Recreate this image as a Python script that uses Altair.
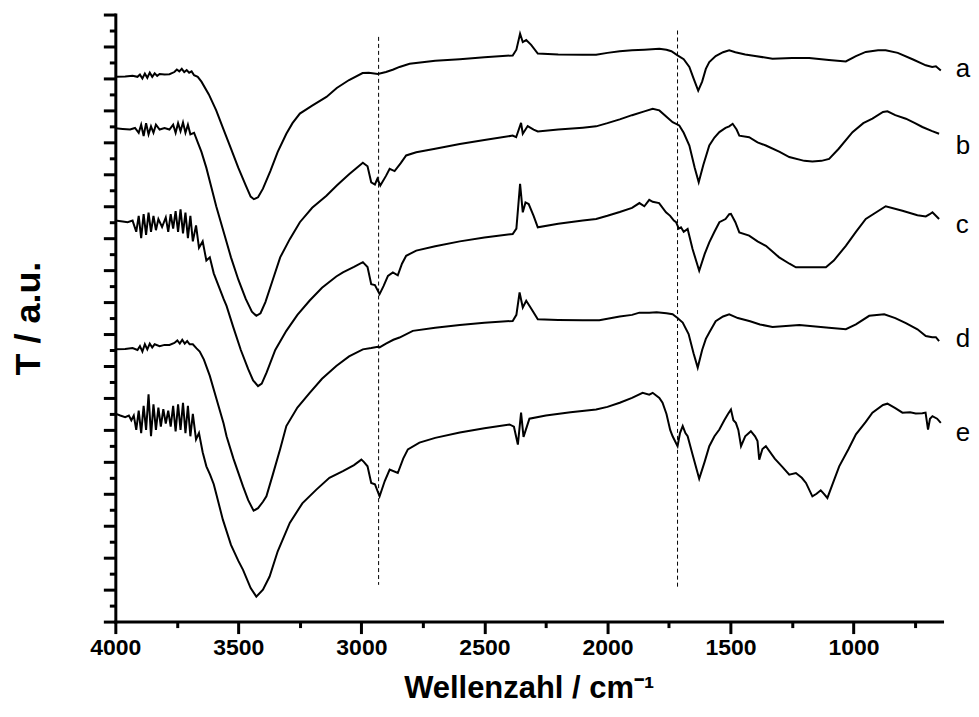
import altair as alt
import pandas as pd

series_names = ["a", "b", "c", "d", "e"]

a_pts = [(4000,17.05),(3960,17.06),(3930,17.08),(3910,17.05),(3900,17.12),(3890,17.0),(3880,17.15),(3870,17.02),(3860,17.18),(3850,17.05),(3840,17.16),(3830,17.08),(3820,17.14),(3800,17.12),(3780,17.13),(3760,17.2),(3750,17.28),(3740,17.22),(3730,17.3),(3720,17.2),(3710,17.26),(3700,17.18),(3690,17.22),(3680,17.1),(3665,17.05),(3650,16.9),(3620,16.5),(3590,16.0),(3560,15.4),(3530,14.8),(3500,14.2),(3470,13.65),(3450,13.3),(3437,13.22),(3420,13.28),(3400,13.55),(3370,14.1),(3340,14.7),(3305,15.27),(3280,15.6),(3250,15.9),(3200,16.15),(3142,16.42),(3100,16.7),(3050,16.95),(2995,17.17),(2970,17.18),(2933,17.14),(2900,17.2),(2870,17.28),(2845,17.36),(2804,17.46),(2700,17.55),(2600,17.6),(2500,17.66),(2385,17.72),(2370,17.9),(2355,18.4),(2344,18.14),(2330,18.2),(2310,18.05),(2283,17.78),(2200,17.75),(2100,17.74),(2046,17.74),(2000,17.8),(1950,17.85),(1900,17.88),(1850,17.9),(1789,17.93),(1760,17.9),(1740,17.85),(1715,17.72),(1690,17.6),(1667,17.36),(1650,17.0),(1631,16.62),(1615,16.9),(1600,17.3),(1586,17.51),(1560,17.7),(1530,17.82),(1505,17.88),(1480,17.82),(1440,17.75),(1400,17.7),(1329,17.62),(1250,17.64),(1180,17.64),(1100,17.58),(1031,17.53),(990,17.7),(950,17.83),(900,17.88),(869,17.88),(820,17.8),(760,17.6),(706,17.41),(680,17.36),(665,17.38),(645,17.25)]

b_pts = [(4000,15.44),(3970,15.42),(3940,15.40),(3920,15.45),(3905,15.3),(3895,15.55),(3885,15.2),(3875,15.6),(3865,15.25),(3855,15.5),(3845,15.3),(3835,15.55),(3820,15.4),(3800,15.45),(3780,15.4),(3765,15.55),(3755,15.3),(3745,15.6),(3735,15.35),(3725,15.62),(3715,15.3),(3705,15.55),(3695,15.25),(3680,15.3),(3665,15.0),(3650,14.7),(3630,14.2),(3610,13.6),(3590,13.0),(3560,12.2),(3530,11.4),(3500,10.7),(3470,10.1),(3445,9.7),(3427,9.57),(3410,9.65),(3390,10.0),(3360,10.7),(3330,11.4),(3291,11.97),(3250,12.5),(3200,12.95),(3142,13.33),(3100,13.65),(3050,14.0),(2994,14.36),(2975,14.25),(2960,13.75),(2945,13.68),(2935,13.86),(2923,13.65),(2900,13.95),(2885,14.17),(2865,14.1),(2840,14.35),(2818,14.59),(2777,14.69),(2700,14.8),(2600,14.95),(2500,15.07),(2385,15.21),(2371,15.16),(2351,15.61),(2344,15.27),(2324,15.51),(2300,15.4),(2283,15.34),(2200,15.4),(2100,15.46),(2046,15.5),(2000,15.6),(1950,15.72),(1900,15.85),(1850,15.97),(1816,16.05),(1789,16.0),(1760,15.8),(1735,15.63),(1708,15.53),(1690,15.3),(1667,14.9),(1645,14.2),(1629,13.75),(1610,14.3),(1586,14.9),(1565,15.15),(1545,15.32),(1520,15.45),(1505,15.5),(1491,15.58),(1475,15.4),(1464,15.21),(1424,15.16),(1390,15.0),(1356,14.9),(1300,14.7),(1261,14.54),(1200,14.42),(1167,14.4),(1130,14.42),(1099,14.48),(1060,14.8),(1004,15.32),(960,15.6),(923,15.74),(880,15.95),(862,15.97),(830,15.85),(787,15.74),(750,15.6),(720,15.48),(680,15.35),(652,15.27)]

c_pts = [(4000,12.55),(3970,12.52),(3950,12.5),(3930,12.55),(3915,12.2),(3905,12.7),(3895,12.0),(3885,12.75),(3875,12.1),(3865,12.8),(3855,12.2),(3845,12.7),(3835,12.25),(3825,12.6),(3810,12.35),(3795,12.65),(3785,12.2),(3775,12.75),(3765,12.3),(3755,12.85),(3745,12.2),(3735,12.9),(3725,12.15),(3715,12.8),(3705,12.0),(3695,12.7),(3685,11.9),(3672,12.4),(3660,11.7),(3645,11.9),(3630,11.3),(3616,11.4),(3600,10.9),(3580,10.5),(3560,10.1),(3548,9.88),(3520,9.2),(3490,8.5),(3460,7.9),(3440,7.55),(3420,7.37),(3405,7.45),(3385,7.8),(3350,8.5),(3305,9.1),(3260,9.6),(3210,10.05),(3160,10.45),(3102,10.8),(3075,10.93),(3030,11.1),(2994,11.25),(2975,11.1),(2960,10.56),(2945,10.53),(2926,10.25),(2910,10.5),(2892,10.82),(2872,10.93),(2852,10.84),(2835,11.2),(2818,11.45),(2777,11.61),(2700,11.75),(2600,11.9),(2500,12.02),(2385,12.13),(2370,12.3),(2355,13.7),(2344,12.81),(2333,13.12),(2320,13.07),(2300,12.7),(2283,12.34),(2200,12.45),(2100,12.55),(2046,12.6),(2000,12.7),(1950,12.82),(1900,12.95),(1870,13.1),(1850,13.0),(1830,13.2),(1816,13.14),(1790,13.1),(1762,12.81),(1745,12.7),(1730,12.55),(1721,12.5),(1710,12.3),(1701,12.34),(1690,12.2),(1674,12.29),(1654,11.66),(1627,10.98),(1605,11.5),(1586,11.87),(1565,12.2),(1545,12.5),(1520,12.6),(1505,12.75),(1498,12.76),(1480,12.5),(1464,12.18),(1424,12.08),(1390,11.9),(1356,11.76),(1302,11.4),(1260,11.2),(1234,11.09),(1112,11.09),(1080,11.3),(1031,11.76),(990,12.2),(950,12.6),(869,13.0),(801,12.86),(740,12.72),(706,12.68),(690,12.75),(679,12.81),(652,12.6)]

d_pts = [(4000,8.52),(3960,8.53),(3930,8.56),(3910,8.5),(3900,8.62),(3890,8.45),(3880,8.68),(3870,8.52),(3860,8.7),(3850,8.58),(3840,8.68),(3820,8.62),(3800,8.66),(3780,8.66),(3760,8.72),(3748,8.8),(3738,8.7),(3728,8.82),(3718,8.7),(3708,8.78),(3698,8.68),(3685,8.68),(3670,8.55),(3657,8.45),(3640,8.2),(3616,7.69),(3590,7.0),(3560,6.2),(3548,5.8),(3520,5.1),(3481,4.23),(3460,3.8),(3438,3.47),(3420,3.55),(3400,3.75),(3386,3.92),(3360,4.6),(3330,5.4),(3305,6.12),(3260,6.7),(3210,7.16),(3160,7.6),(3102,8.0),(3050,8.3),(2994,8.52),(2960,8.56),(2933,8.6),(2926,8.58),(2900,8.7),(2870,8.82),(2845,8.89),(2791,9.1),(2700,9.2),(2600,9.28),(2500,9.35),(2385,9.41),(2370,9.6),(2357,10.3),(2344,9.83),(2330,10.04),(2310,9.8),(2283,9.46),(2200,9.44),(2100,9.43),(2033,9.43),(1950,9.55),(1900,9.6),(1870,9.67),(1830,9.67),(1800,9.68),(1760,9.65),(1735,9.62),(1715,9.5),(1694,9.36),(1670,9.0),(1650,8.4),(1633,7.95),(1615,8.5),(1600,8.85),(1586,9.05),(1560,9.4),(1530,9.55),(1505,9.62),(1470,9.5),(1420,9.4),(1380,9.3),(1329,9.22),(1220,9.28),(1100,9.2),(1031,9.15),(990,9.3),(936,9.57),(875,9.62),(830,9.5),(787,9.34),(740,9.15),(706,8.94),(680,8.9),(665,8.9),(652,8.78)]

e_pts = [(4000,6.51),(3980,6.45),(3960,6.4),(3945,6.45),(3935,6.3),(3925,6.45),(3915,6.0),(3905,6.6),(3895,5.9),(3885,6.75),(3875,6.0),(3865,7.11),(3855,5.8),(3845,6.8),(3835,6.0),(3825,6.7),(3815,6.1),(3805,6.65),(3795,6.2),(3785,6.6),(3775,6.1),(3765,6.75),(3755,5.95),(3745,6.8),(3735,6.0),(3725,6.85),(3715,5.9),(3705,6.75),(3695,5.8),(3685,6.5),(3672,5.7),(3660,5.9),(3645,5.3),(3630,4.86),(3615,4.6),(3600,4.3),(3590,4.0),(3563,3.19),(3530,2.4),(3500,1.9),(3481,1.62),(3450,1.05),(3427,0.78),(3400,1.0),(3373,1.41),(3340,2.2),(3291,3.09),(3240,3.7),(3183,4.13),(3130,4.5),(3075,4.71),(3030,4.9),(3000,5.07),(2990,5.0),(2975,4.86),(2960,4.34),(2945,4.3),(2926,3.92),(2905,4.4),(2885,4.76),(2852,4.65),(2830,5.1),(2811,5.39),(2764,5.6),(2700,5.75),(2600,5.92),(2500,6.05),(2398,6.17),(2380,6.1),(2364,5.54),(2351,6.54),(2341,5.78),(2317,6.35),(2250,6.45),(2150,6.55),(2046,6.64),(2000,6.72),(1950,6.85),(1900,7.0),(1857,7.16),(1830,7.1),(1816,7.16),(1789,7.0),(1776,6.85),(1760,6.5),(1745,6.0),(1735,5.8),(1715,5.49),(1705,5.9),(1694,6.12),(1683,5.9),(1674,5.8),(1654,5.23),(1627,4.47),(1605,5.0),(1586,5.49),(1565,5.8),(1545,6.01),(1525,6.3),(1510,6.5),(1498,6.64),(1488,6.3),(1478,6.22),(1468,6.0),(1457,5.49),(1440,5.8),(1417,5.96),(1400,5.8),(1390,5.65),(1383,5.07),(1370,5.4),(1356,5.49),(1320,5.1),(1290,4.85),(1261,4.6),(1234,4.65),(1210,4.5),(1193,4.34),(1167,3.92),(1150,4.0),(1133,4.11),(1120,4.0),(1106,3.87),(1085,4.3),(1058,4.86),(1020,5.4),(990,5.86),(950,6.25),(923,6.54),(880,6.78),(862,6.82),(830,6.68),(801,6.54),(770,6.55),(747,6.51),(720,6.52),(707,6.54),(697,6.01),(689,6.35),(679,6.43),(660,6.35),(645,6.22)]

label_x = 584
label_y = [17.3, 14.9, 12.4, 8.85, 5.9]

marker_wn = [2930, 1715]
marker_top = [18.3, 18.5]
marker_bottom = [1.15, 1.0]

x_major = [4000, 3500, 3000, 2500, 2000, 1500, 1000]
x_minor = [3750, 3250, 2750, 2250, 1750, 1250, 750]
y_major = list(range(0, 20))
y_minor = [v + 0.5 for v in range(0, 19)]

x_title = "Wellenzahl / cm\u207b\u00b9"
y_title = "T / a.u."

rows = []
for name, pts in zip(series_names, [a_pts, b_pts, c_pts, d_pts, e_pts]):
    for i, (w, t) in enumerate(pts):
        rows.append({"series": name, "wn": w, "t": t, "order": i})
df = pd.DataFrame(rows)

labels_df = pd.DataFrame({"name": series_names, "wn": [label_x] * 5, "t": label_y})
rules_df = pd.DataFrame({"wn": marker_wn, "t": marker_top, "t2": marker_bottom})

FONT = "Liberation Sans"

x_scale = alt.Scale(domain=[640, 4000], reverse=True, nice=False, zero=False)
y_scale = alt.Scale(domain=[0, 19], nice=False, zero=False)

x_axis = alt.Axis(
    values=sorted(x_major + x_minor, reverse=True),
    labelExpr="datum.value % 500 === 0 ? datum.label : ''",
    format="d",
    tickSize={"condition": {"test": "datum.value % 500 === 0", "value": 12}, "value": 6},
    tickWidth={"condition": {"test": "datum.value > -1", "value": 3}, "value": 3},
    domainWidth=3,
    domainColor="black",
    tickColor="black",
    labelFont=FONT,
    labelFontSize=23,
    labelFontWeight="bold",
    labelColor="black",
    labelPadding=3,
    labelOverlap=False,
    labelFlush=False,
    title=x_title,
    titleFont=FONT,
    titleFontSize=31,
    titleFontWeight="bold",
    titleColor="black",
    titlePadding=14,
    grid=False,
)

y_axis = alt.Axis(
    values=sorted(y_major + y_minor),
    labels=False,
    tickSize={"condition": {"test": "datum.value % 1 === 0", "value": 12}, "value": 6},
    tickWidth={"condition": {"test": "datum.value > -1", "value": 3}, "value": 3},
    domainWidth=3,
    domainColor="black",
    tickColor="black",
    title=y_title,
    titleFont=FONT,
    titleFontSize=36,
    titleFontWeight="bold",
    titleColor="black",
    titlePadding=54,
    grid=False,
)

lines = alt.Chart(df).mark_line(color="black", strokeWidth=2).encode(
    x=alt.X("wn:Q", scale=x_scale, axis=x_axis),
    y=alt.Y("t:Q", scale=y_scale, axis=y_axis),
    detail="series:N",
    order="order:Q",
)

rules = alt.Chart(rules_df).mark_rule(color="black", strokeWidth=1, strokeDash=[4, 3]).encode(
    x=alt.X("wn:Q", scale=x_scale, axis=x_axis),
    y=alt.Y("t:Q", scale=y_scale, axis=y_axis),
    y2="t2:Q",
)

texts = alt.Chart(labels_df).mark_text(
    align="left", baseline="middle", font=FONT, fontSize=26, color="black"
).encode(
    x=alt.X("wn:Q", scale=x_scale, axis=x_axis),
    y=alt.Y("t:Q", scale=y_scale, axis=y_axis),
    text="name:N",
)

chart = alt.layer(lines, rules, texts).properties(
    width=828,
    height=608,
    autosize=alt.AutoSizeParams(type="none"),
    padding={"left": 107.5, "top": 6, "right": 29, "bottom": 85},
).configure_view(stroke=None).configure_axis(
    domainWidth=3, tickWidth=3, domainColor="black", tickColor="black", domainCap="square"
)

chart.save("out.html", embed_options={"renderer": "svg", "actions": False})
